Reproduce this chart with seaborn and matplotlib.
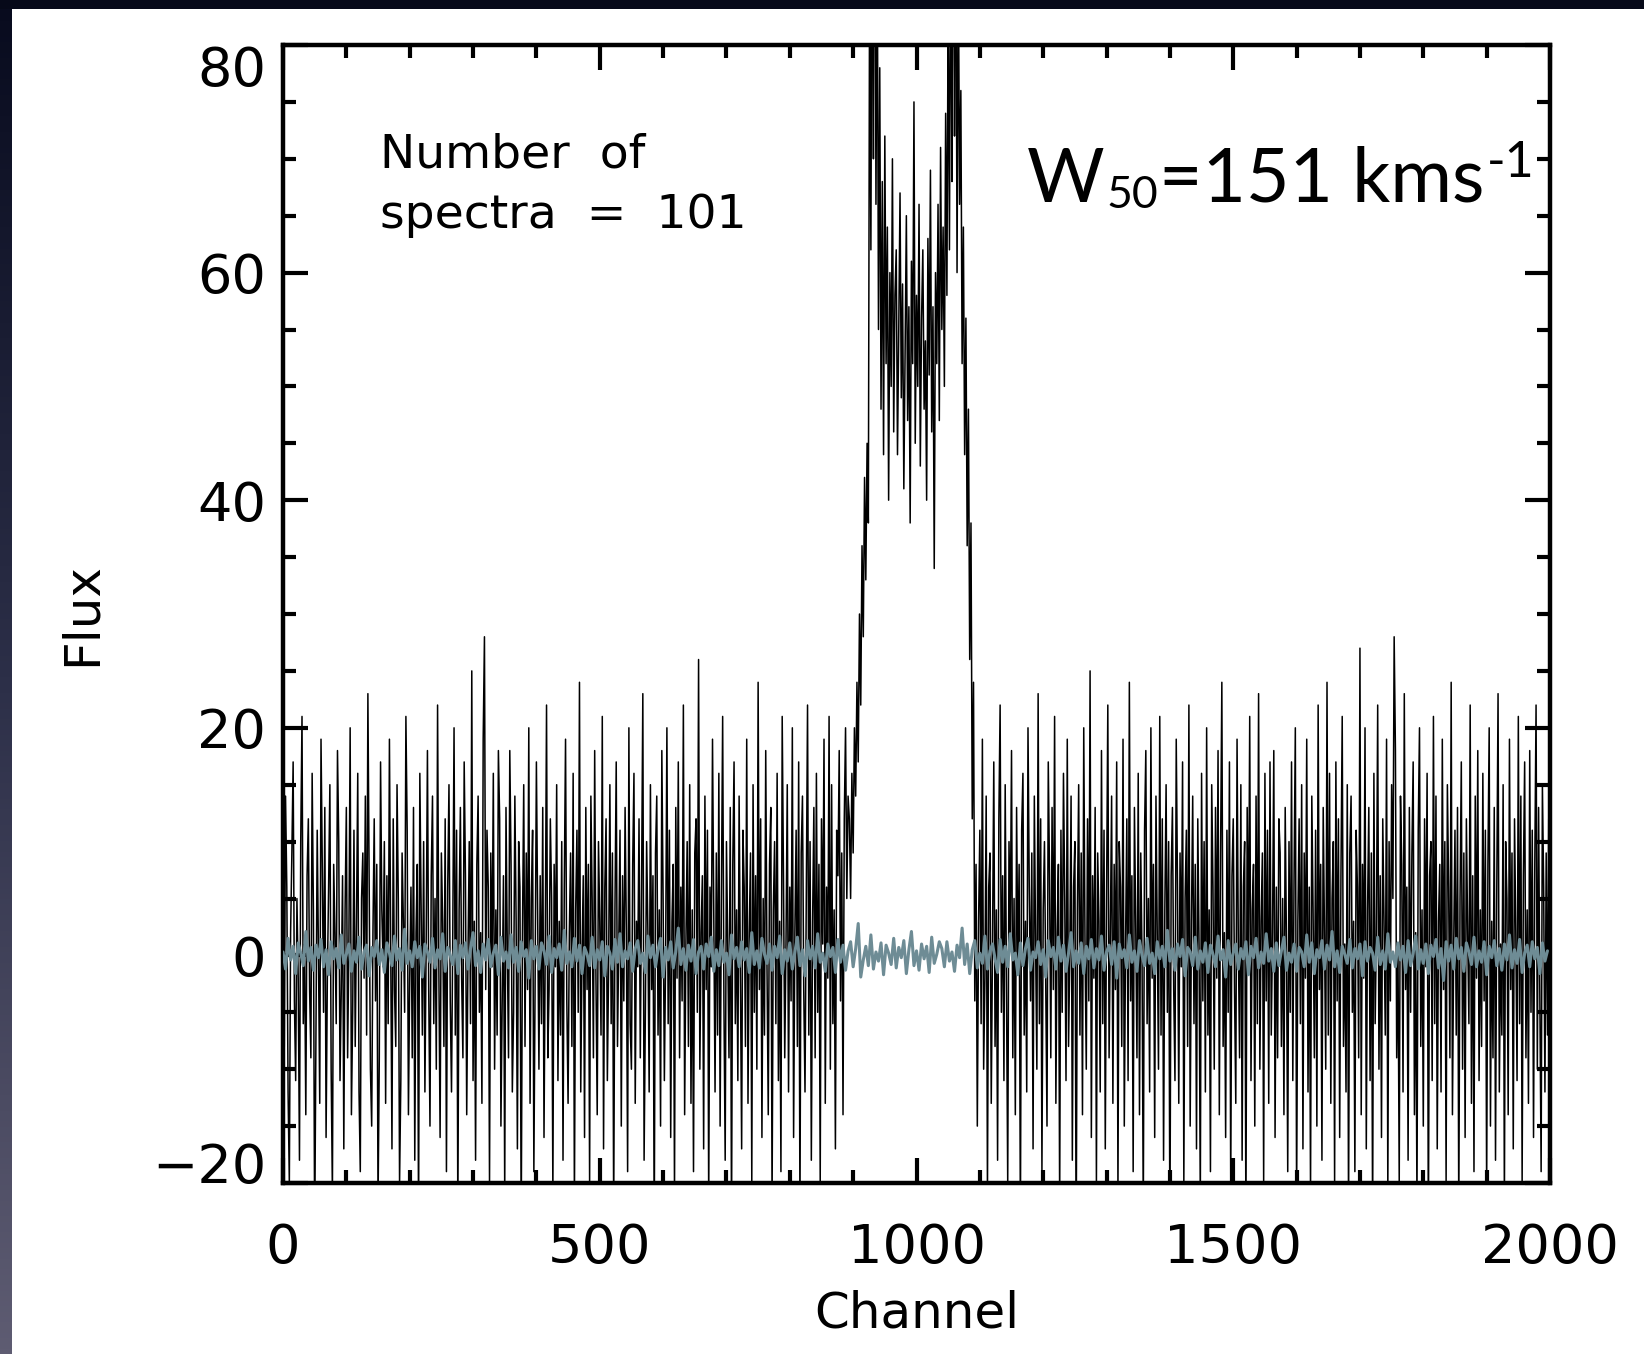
import numpy as np
import matplotlib
matplotlib.use("Agg")
import matplotlib.pyplot as plt
import seaborn as sns
from matplotlib.patches import Rectangle
from matplotlib.colors import LinearSegmentedColormap

# ---------------- data ----------------
channel_step_black = 2
channel_step_grey = 4

black_left = [
    3, -8, 14, 6, -12, -20, 2, 9, 17, -4, -11, 5, -2, -18, 10, 21, -6, 1, -14, 7,
    12, -3, -9, 16, 4, -25, -7, 11, 0, -13, 19, 8, -5, 13, -16, -2, 6, 15, -10, -21,
    8, 2, -6, 18, 10, -11, -3, 7, -17, 4, 13, -9, 1, 20, -14, -5, 11, -8, 3, 16,
    -12, -19, 5, 9, -2, 14, -7, 23, 6, -10, -15, 2, 12, -4, 8, -22, -9, 17, 4, -1,
    10, -13, 7, -6, 19, 1, -17, 12, -3, -8, 15, 5, -20, -11, 9, 3, -5, 21, 11, -14,
    -2, 6, -9, 13, -18, 2, 8, -24, 16, 4, -7, 10, -12, 1, 18, -3, -15, 7, 14, -6,
    5, -10, 22, -1, -16, 9, 3, -8, 12, -19, 6, 15, -4, -12, 2, 20, -7, 11, -23, 4,
    13, -2, -9, 17, 7, -14, 0, 10, -6, 25, -11, 3, -18, 8, 14, -5, 2, -13, 19, 28,
    -3, 11, 6, -20, 9, -1, 16, -10, 4, -7, 18, 12, -15, -4, 7, -21, 13, 1, -9, 18,
    8, -12, -5, 14, 3, -17, 10, 6, -24, 2, 15, -8, 9, -3, 20, -13, 5, 11, -19, -2,
    17, 4, -10, 7, -6, 13, -16, 1, 22, -9, -3, 12, 5, -21, 8, -1, 15, -11, 3, -7,
    10, -18, 6, 19, -4, -13, 2, 9, -8, 16, -22, 4, 11, -5, 24, -12, 0, 7, -16, 13,
    -3, 8, -20, 14, 5, -9, 18, -2, -14, 10, 3, -7, 21, -17, 6, 12, -11, -1, 15, -6,
    9, -23, 4, 17, -8, 1, 11, -15, 7, -4, 13, 2, -19, 20, -6, -10, 8, 16, -13, 3,
    -1, 12, -9, 6, 23, -18, -5, 10, 2, -12, 15, -3, 7, -25, 9, 14, -7, 4, -15, 18,
    5, -11, 0, 20, -6, 11, -16, 3, 8, -21, 13, -2, 17, -9, 6, -4, 22, -14, 1, 10,
    -8, 15, -13, 4, -19, 9, 12, -5, 26, -10, 2, 7, -17, 14, -3, 11, -22, 6, -1, 19,
    3, -12, 9, -7, 16, -15, 5, 21, -4, -18, 10, 1, -9, 13, -24, 8, 17, -6, 4, -11,
    14, -2, -17, 11, 6, -8, 19, -13, 2, 9, -20, 15, -5, 7, -10, 24, -3, 12, -16, 5,
    -7, 18, -1, -14, 8, 13, -22, 4, 10, -6, 16, -11, 3, -19, 21, 7, -9, 1, 15, -12,
    6, -4, 20, -16, 2, 11, -8, 17, -23, 9, 14, -3, -12, 5, 22, -7, 10, -18, 3, 13,
    -9, 16, -5, 8, -20, 12, 1, 19, -13, 6, -2, 21, -10, 15, -6, 4, -17, 11, 7, 18,
    -4, 9, -14, 12, 20, 5, 14,
]

black_line = [
    12, 5, 16, 9, 20, 14, 24, 17, 30, 22, 36, 28, 42, 33, 45, 38, 88, 62, 97, 70,
    105, 66, 90, 55, 78, 48, 68, 44, 72, 52, 64, 40, 60, 50, 70, 46, 58, 62, 44, 55,
    67, 49, 59, 41, 53, 65, 47, 57, 38, 61, 52, 75, 45, 58, 50, 66, 43, 56, 62, 48,
    54, 40, 63, 51, 69, 46, 57, 34, 60, 52, 66, 47, 71, 55, 64, 50, 74, 58, 85, 62,
    92, 68, 102, 72, 96, 60, 88, 66, 76, 52, 64, 44, 56, 36, 48, 26, 38, 12, 24, -4,
]

black_right = [
    8, -15, 3, 11, -6, 19, -10, -2, 14, -21, 6, 9, -13, 1, 17, -8, 4, -18, 12, 22,
    -5, 7, -11, 15, -3, -20, 10, 2, 18, -9, 5, -14, 13, -1, 8, -24, 11, 16, -7, 3,
    -12, 20, 6, -4, 9, -17, 14, 1, -10, 23, -6, 12, -19, 4, 10, -2, -15, 17, 7, -9,
    13, -3, 21, -13, 2, 8, -22, 11, -5, 16, 5, -11, 19, -8, 0, 14, -18, 6, 10, -26,
    4, 15, -7, 9, -14, 20, 1, -10, 12, -4, 25, -16, 7, -2, 13, -20, 9, 3, -12, 18,
    -6, 11, -17, 5, 22, -9, 2, 14, -13, 8, -3, 17, -21, 10, 6, -8, 19, -15, 1, 12,
    -11, 24, -4, 7, -19, 13, 3, -9, 16, -14, 9, 0, -23, 11, 18, -6, 5, -12, 20, -2,
    8, -16, 14, 2, -10, 21, -7, 12, -18, 4, 15, -5, 10, -25, 7, 13, -3, -11, 19, 6,
    -13, 9, -1, 17, -20, 5, 11, -8, 22, -15, 3, 14, -6, 8, -17, 12, 1, -22, 16, -4,
    10, -12, 20, -7, 4, -19, 15, 6, -10, 13, -2, 18, -14, 9, 24, -8, 2, -16, 11, -5,
    17, -21, 7, 12, -3, -13, 19, 1, -9, 15, -18, 6, 10, -24, 13, -1, 21, -11, 4, 8,
    -15, 14, -6, 23, -10, 3, 9, -20, 16, -4, 11, -13, 17, -7, 2, 18, -16, 6, -9, 12,
    9, -8, 5, -14, 13, 1, -19, 10, -5, 17, -11, 7, 20, -22, 3, 12, -6, 15, -17, 9,
    -2, 19, -12, 6, -21, 14, 4, -9, 11, -15, 22, -3, 8, -18, 13, 2, -10, 24, -7, 16,
    -13, 5, 10, -20, 17, -4, 12, -16, 7, 21, -8, 1, -12, 15, -23, 9, 14, -5, 3, -19,
    11, 6, -9, 27, -14, 8, -2, 20, -17, 4, 13, -11, 9, -24, 16, -6, 2, 22, -10, 7,
    -16, 12, 3, -7, 19, -21, 10, -4, 15, 5, 28, 18, -9, 1, -20, 14, 8, -12, 23, -3,
    6, -18, 13, -5, 9, 17, -14, 2, -22, 11, 20, -8, 4, -15, 12, -1, 16, -25, 7, 10,
    -11, 21, -6, 14, -17, 3, 8, -12, 19, -3, 10, -20, 15, 6, -9, 24, -14, 1, 11, -7,
    13, -23, 5, 17, -10, 9, -16, 12, 2, -6, 22, -13, 7, -19, 14, -2, 18, -11, 4, -8,
    16, -4, 11, -21, 8, 20, -15, 3, -9, 13, -18, 6, 23, -12, 1, -7, 15, -22, 10, 5,
    -14, 19, -3, 9, -17, 12, 2, -11, 21, -6, 14, -20, 7, 17, -9, 4, -13, 18, -5, 11,
    -16, 8, 22, -10, 13, -4, -19, 15, 6, -12, 9, -7, 12,
]

grey_flux = [
    0.3, -1.2, 1.5, -0.4, 0.8, -1.6, 1.1, 0.2, -0.9, 2.1, -0.5, 0.7, -1.3, 0.9, -0.2, 1.4, -1.0, 0.5, -1.7, 1.2,
    -0.3, 0.6, -1.1, 1.8, -0.7, 0.1, 1.0, -1.4, 0.4, -0.6, 1.6, -1.2, 0.3, 0.9, -1.8, 0.7, -0.1, 1.3, -0.8, 0.5,
    -1.5, 1.1, 0.2, -0.9, 1.7, -0.4, 0.6, -1.3, 2.3, -0.7, 0.4, -1.0, 1.2, -0.2, 0.8, -1.9, 1.0, 0.3, -0.6, 1.5,
    -1.1, 0.5, -0.3, 1.9, -1.4, 0.7, 0.0, -0.8, 1.3, -1.6, 0.9, -0.2, 1.1, -1.2, 0.6, 2.0, -0.9, 0.4, -1.5, 1.0,
    -0.4, 1.4, -1.0, 0.2, 0.9, -1.7, 1.6, -0.5, 0.3, -1.1, 1.8, -0.6, 0.7, -1.4, 1.2, -0.1, 0.5, -2.0, 1.3, -0.3,
    0.8, -1.2, 1.1, 0.4, -0.8, 1.7, -1.5, 0.6, -0.2, 1.0, -1.3, 2.2, -0.7, 0.3, -1.0, 1.5, -0.5, 0.9, -1.6, 0.7,
    0.1, -0.9, 1.6, -1.1, 0.5, -0.4, 1.2, -1.8, 0.8, 0.2, -1.2, 1.4, -0.6, 1.9, -1.0, 0.4, -0.3, 1.1, -1.4, 0.6,
    1.3, -0.7, 0.2, -1.5, 1.7, -0.2, 0.9, -1.0, 0.5, 1.5, -1.9, 0.7, -0.4, 1.2, -1.1, 0.3, 2.4, -0.8, 0.6, -1.3,
    0.9, -0.5, 1.4, -1.6, 0.3, 0.8, -1.2, 1.0, -0.1, 1.6, -1.4, 0.5, -0.9, 1.3, -0.6, 0.2, -1.7, 1.8, -0.3, 0.7,
    -1.0, 1.2, -0.4, 0.6, -1.5, 2.0, -0.8, 0.4, -1.1, 1.5, 0.1, -0.7, 1.0, -1.3, 0.8, -0.2, 1.7, -1.6, 0.5, -0.5,
    1.1, -1.2, 0.3, 1.6, -0.9, 0.5, -1.8, 1.3, -0.3, 0.8, -1.1, 1.9, -0.6, 0.2, -1.4, 1.0, -0.1, 0.7, -1.5, 1.4,
    -0.6, 0.9, -1.3, 0.4, 1.2, -1.0, 0.6, 2.8, -1.9, -0.4, 0.8, -0.9, 1.8, -1.2, 0.3, -0.5, 1.1, -1.7, 0.9, 0.2,
    -0.8, 1.5, -1.1, 0.7, -0.2, 1.3, -1.6, 0.5, 2.1, -0.9, 0.4, -1.3, 1.0, -0.3, 0.8, -1.5, 1.6, -0.7, 0.1, 1.2,
    0.6, -1.0, 1.2, -0.5, 0.3, -1.4, 0.9, -0.2, 2.4, -0.8, 1.0, -1.6, 0.5, 1.3, -1.1, 0.2, -0.7, 1.7, -1.2, 0.4,
    1.0, -0.3, -1.5, 1.4, -0.6, 0.8, -1.0, 1.9, -0.4, 0.2, -1.7, 1.1, -0.9, 0.6, 1.5, -1.3, 0.3, -0.2, 1.2, -0.8,
    0.5, -1.9, 1.3, -0.1, 0.7, -1.2, 1.6, -0.5, 0.9, -1.4, 0.2, 2.0, -1.0, 0.4, -0.7, 1.1, -1.6, 0.8, -0.3, 1.4,
    -1.1, 0.6, -0.4, 1.7, -1.3, 0.3, 0.9, -0.8, 1.2, -2.0, 1.0, -0.2, 0.5, -1.1, 1.8, -0.6, 0.4, -1.4, 1.3, 0.0,
    -0.9, 1.5, -0.7, 0.2, -1.6, 1.2, -0.3, 0.8, -1.0, 2.2, -0.5, 0.6, -1.3, 1.0, -0.1, 1.4, -1.8, 0.7, 0.3, -0.9,
    1.6, -1.2, 0.4, -0.6, 1.1, -1.5, 0.9, 0.1, -1.0, 1.7, -0.4, 0.5, -1.9, 1.3, -0.8, 0.2, 1.0, -1.2, 0.6, -0.3,
    1.2, -1.7, 0.8, -0.2, 1.5, -1.1, 0.3, -0.7, 1.9, -0.5, 0.6, -1.4, 1.1, -0.9, 0.4, 1.6, -1.3, 0.2, -0.6, 1.0,
    -1.4, 0.7, 0.3, -1.0, 1.8, -0.6, 1.1, -1.6, 0.5, -0.2, 1.3, -1.2, 0.9, -0.4, 2.1, -1.0, 0.4, -1.5, 0.8, 0.1,
    -0.7, 1.4, -1.1, 0.6, -0.3, 1.0, -1.8, 1.2, -0.5, 0.7, 0.2, -1.3, 1.6, -0.8, 0.4, -1.2, 1.9, -0.6, 0.3, -1.0,
    1.1, -0.4, 0.8, -1.5, 1.3, -0.9, 0.2, 1.7, -1.2, 0.5, -0.7, 1.0, -1.6, 0.9, -0.1, 1.4, -1.1, 0.6, -2.2, 1.2,
    -0.5, 0.9, -1.2, 1.5, -0.3, 0.7, -1.4, 1.1, 0.3, -0.8, 1.6, -1.0, 0.4, -0.6, 1.2, -1.7, 0.8, -0.2, 1.3, -0.9,
    0.6, -1.3, 1.0, -0.4, 1.8, -1.1, 0.5, -0.7, 1.4, -1.5, 0.2, 0.9, -1.0, 1.2, -0.3, 0.7, -1.6, 1.1, -0.5, 0.4,
]

x_ticks = [0, 500, 1000, 1500, 2000]
x_ticklabels = ["0", "500", "1000", "1500", "2000"]
y_ticks = [-20, 0, 20, 40, 60, 80]
y_ticklabels = ["\u221220", "0", "20", "40", "60", "80"]
x_label = "Channel"
y_label = "Flux"
note_line1 = "Number  of"
note_line2 = "spectra  =  101"
# W50 annotation pieces: text, role
width_pieces = [("W", "main"), ("50", "sub"), ("=151 kms", "main"), ("-1", "sup")]

black_flux = np.array(black_left + black_line + black_right, dtype=float)
black_channel = np.arange(len(black_flux)) * channel_step_black
grey_arr = np.array(grey_flux, dtype=float)
grey_channel = np.arange(len(grey_arr)) * channel_step_grey

# ---------------- style ----------------
sns.set_theme(style="white")
plt.rcParams["font.family"] = ["DejaVu Sans"]
for key in ["text.color", "axes.labelcolor", "xtick.color", "ytick.color", "axes.edgecolor"]:
    plt.rcParams[key] = "black"

W, H = 1644, 1354
fig = plt.figure(figsize=(W / 100, H / 100), dpi=100, facecolor="white")

# dark frame on top and left edges
grad = np.linspace(0, 1, 256).reshape(-1, 1)
cmap = LinearSegmentedColormap.from_list("edge", ["#080b1e", "#2c2f48", "#5e5c72"])
bg = fig.add_axes([0, 0, 11 / W, 1])
bg.imshow(grad, aspect="auto", cmap=cmap, extent=[0, 1, 0, 1], origin="upper")
bg.set_axis_off()
fig.add_artist(Rectangle((0, 1 - 9 / H), 1, 9 / H, transform=fig.transFigure,
                         facecolor="#060919", edgecolor="none", zorder=5))

left, right, top, bottom = 283, 1550, 45, 1183
ax = fig.add_axes([left / W, 1 - bottom / H, (right - left) / W, (bottom - top) / H])
ax.set_facecolor("white")

sns.lineplot(x=black_channel, y=black_flux, ax=ax, color="black", linewidth=1.1,
             estimator=None, sort=False, zorder=2)
sns.lineplot(x=grey_channel, y=grey_arr, ax=ax, color="#6e8c95", linewidth=2.2,
             estimator=None, sort=False, zorder=3)

ax.set_xlim(0, 2000)
ax.set_ylim(-20, 80)

ax.set_xticks(x_ticks)
ax.set_xticklabels(x_ticklabels)
ax.set_yticks(y_ticks)
ax.set_yticklabels(y_ticklabels)
ax.xaxis.set_minor_locator(matplotlib.ticker.MultipleLocator(100))
ax.yaxis.set_minor_locator(matplotlib.ticker.MultipleLocator(5))

ax.tick_params(which="both", direction="in", top=True, right=True, bottom=True, left=True,
               color="black", labelcolor="black", width=3.0)
ax.tick_params(which="major", length=18)
ax.tick_params(which="minor", length=9.5)
ax.tick_params(axis="y", which="major", labelsize=39, pad=12)
ax.tick_params(axis="x", which="major", labelsize=39, pad=28)

for lab in ax.get_yticklabels():
    if lab.get_text() == "80":
        lab.set_verticalalignment("top")
    elif lab.get_text() == "\u221220":
        lab.set_verticalalignment("baseline")

for sp in ax.spines.values():
    sp.set_linewidth(3.2)
    sp.set_color("black")
    sp.set_visible(True)

ax.set_xlabel(x_label, fontsize=36, va="center", color="black")
ax.set_ylabel(y_label, fontsize=36, va="center", color="black")
ax.xaxis.set_label_coords(0.5, (bottom - 1313) / (bottom - top))
ax.yaxis.set_label_coords((82 - left) / (right - left), 0.5)

ax.text((380 - left) / (right - left), (bottom - 167) / (bottom - top), note_line1,
        transform=ax.transAxes, fontsize=34, ha="left", va="baseline", color="black")
ax.text((380 - left) / (right - left), (bottom - 228) / (bottom - top), note_line2,
        transform=ax.transAxes, fontsize=34, ha="left", va="baseline", color="black")

# W50 annotation, composed from pieces placed one after the other
renderer = fig.canvas.get_renderer()
role_size = {"main": 54, "sub": 32, "sup": 36}
role_dy = {"main": 0, "sub": -6, "sup": 25}   # pixel offset of baseline
x_px = 1027
base_px = H - 202
for txt, role in width_pieces:
    t = fig.text(x_px / W, (base_px + role_dy[role]) / H, txt, fontsize=role_size[role],
                 family="Lato", ha="left", va="baseline", color="black")
    bb = t.get_window_extent(renderer)
    x_px = bb.x1 + (2 if role == "main" else 1)

fig.savefig("out.png", dpi=100, facecolor="white")
